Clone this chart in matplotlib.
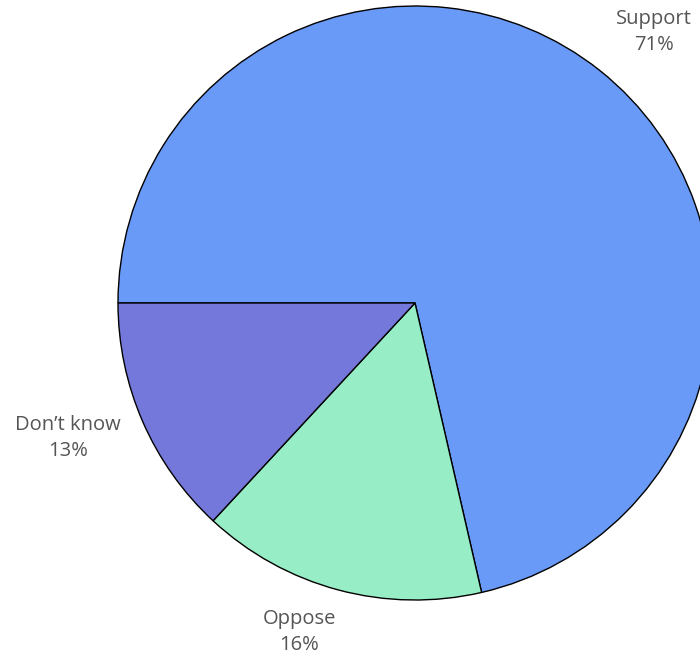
import numpy as np
import matplotlib
matplotlib.use('Agg')
import matplotlib.pyplot as plt

plt.rcParams['font.family'] = ['Open Sans', 'DejaVu Sans']

labels = ['Support', 'Oppose', 'Don\u2019t know']
values = [71.4, 15.5, 13.1]     # slice sizes
shown = [71, 16, 13]            # rounded percentages printed on the labels
colors = ['#6a9af8', '#96edc6', '#7578db']

fig = plt.figure(figsize=(7, 6.6), dpi=100)
ax = fig.add_axes([0, 0, 1, 1])

cx, cy, r = 415, 660 - 303, 297
wedges, _ = ax.pie(values, colors=colors, startangle=180, counterclock=False,
                   center=(cx, cy), radius=r,
                   wedgeprops=dict(edgecolor='black', linewidth=1))
ax.set_xlim(0, 700)
ax.set_ylim(0, 660)
ax.set_aspect('equal')
ax.axis('off')

# label positions relative to pie centre, in pixels (x right, y up)
offsets = [(239, 271), (-116, -329), (-347, -135)]
for lab, v, (dx, dy) in zip(labels, shown, offsets):
    ax.text(cx + dx, cy + dy, f'{lab}\n{v}%', ha='center', va='center',
            fontsize=14.5, color='#555555', linespacing=1.35)

fig.savefig('out.png', dpi=100)
